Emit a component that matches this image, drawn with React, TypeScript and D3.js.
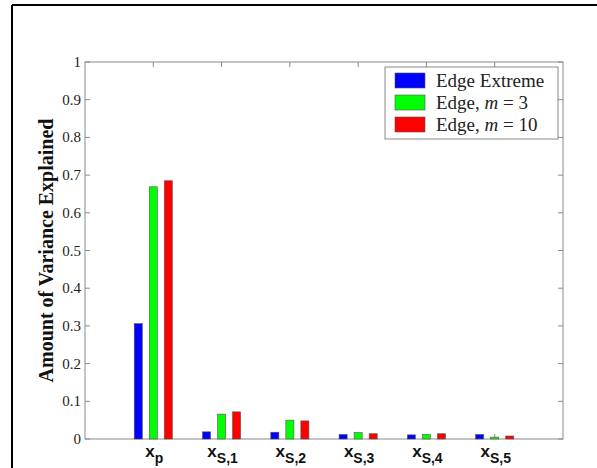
import React from "react";
import * as d3 from "d3";

const categories = ["p", "S,1", "S,2", "S,3", "S,4", "S,5"];
const seriesNames = ["Edge Extreme", "Edge, m = 3", "Edge, m = 10"];
const edgeExtreme = [0.306, 0.019, 0.018, 0.012, 0.011, 0.012];
const edgeM3 = [0.669, 0.066, 0.05, 0.017, 0.012, 0.005];
const edgeM10 = [0.685, 0.072, 0.048, 0.014, 0.014, 0.008];
const yTicks = [0, 0.1, 0.2, 0.3, 0.4, 0.5, 0.6, 0.7, 0.8, 0.9, 1];
const colors = ["#0000ff", "#00ff00", "#ff0000"];

const W = 597;
const H = 468;
const L = 85, R = 563, T = 62, B = 439;

export default function App() {
  const series = [edgeExtreme, edgeM3, edgeM10];
  const x = d3.scaleLinear().domain([0, categories.length + 1]).range([L, R]);
  const y = d3.scaleLinear().domain([0, 1]).range([B, T]);
  const unit = x(1) - x(0);
  const offset = 0.22 * unit;
  const bw = 0.118 * unit;
  const axisColor = "#8a8a8a";
  const textColor = "#222";

  return (
    <svg width={W} height={H} style={{ position: "absolute", left: 0, top: 0, background: "#fff" }}>
      {/* outer frame */}
      <line x1={12} y1={5} x2={W} y2={5} stroke="#000" strokeWidth={2} />
      <line x1={12} y1={5} x2={12} y2={H} stroke="#000" strokeWidth={2} />

      {/* axes box */}
      <rect x={L} y={T} width={R - L} height={B - T} fill="none" stroke={axisColor} strokeWidth={1} />

      {/* y ticks */}
      {yTicks.map((t) => (
        <g key={"y" + t}>
          <line x1={L} x2={L + 5} y1={y(t)} y2={y(t)} stroke={axisColor} />
          <line x1={R} x2={R - 5} y1={y(t)} y2={y(t)} stroke={axisColor} />
          <text
            x={L - 4}
            y={y(t) + 5}
            textAnchor="end"
            fontFamily="'Liberation Serif', 'Times New Roman', serif"
            fontSize={15}
            fill={textColor}
          >
            {t === 0 ? "0" : t === 1 ? "1" : String(t)}
          </text>
        </g>
      ))}

      {/* x ticks */}
      {categories.map((c, i) => (
        <g key={"xt" + c}>
          <line x1={x(i + 1)} x2={x(i + 1)} y1={T} y2={T + 5} stroke={axisColor} />
          <line x1={x(i + 1)} x2={x(i + 1)} y1={B} y2={B - 5} stroke={axisColor} />
        </g>
      ))}

      {/* bars */}
      {series.map((vals, s) =>
        vals.map((v, i) => {
          const cx = x(i + 1) + (s - 1) * offset;
          return (
            <rect
              key={`b${s}-${i}`}
              x={cx - bw / 2}
              y={y(v)}
              width={bw}
              height={y(0) - y(v)}
              fill={colors[s]}
              stroke="#555"
              strokeWidth={0.6}
            />
          );
        })
      )}

      {/* x labels */}
      {categories.map((c, i) => (
        <text
          key={"xl" + c}
          x={x(i + 1) + 1}
          y={457}
          textAnchor="middle"
          fontFamily="'Liberation Sans', Arial, sans-serif"
          fontWeight="bold"
          fontSize={17}
          fill="#111"
        >
          x
          <tspan fontSize={14} dy={6}>
            {c}
          </tspan>
        </text>
      ))}

      {/* y axis label */}
      <text
        transform={`translate(53, ${(T + B) / 2}) rotate(-90)`}
        textAnchor="middle"
        fontFamily="'Liberation Serif', 'Times New Roman', serif"
        fontWeight="bold"
        fontSize={20}
        fill="#111"
      >
        Amount of Variance Explained
      </text>

      {/* legend */}
      <rect x={385} y={67} width={173} height={72} fill="#fff" stroke={axisColor} strokeWidth={1} />
      {seriesNames.map((n, s) => {
        const ry = 73 + s * 22;
        return (
          <g key={"lg" + s}>
            <rect x={395} y={ry} width={30} height={15} fill={colors[s]} stroke="#555" strokeWidth={0.6} />
            <text
              x={436}
              y={ry + 14}
              fontFamily="'Liberation Serif', 'Times New Roman', serif"
              fontSize={19}
              fill={textColor}
            >
              {s === 0 ? (
                n
              ) : (
                <>
                  Edge, <tspan fontStyle="italic">m</tspan> = {s === 1 ? "3" : "10"}
                </>
              )}
            </text>
          </g>
        );
      })}
    </svg>
  );
}
